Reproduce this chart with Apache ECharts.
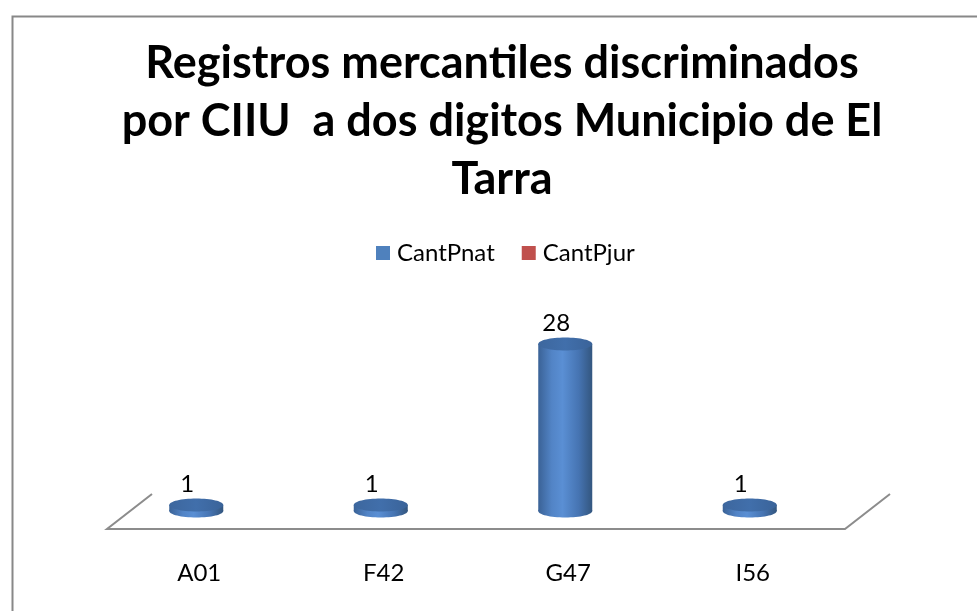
<!DOCTYPE html>
<html><head><meta charset="utf-8">
<script src="https://cdn.jsdelivr.net/npm/echarts@6/dist/echarts.min.js"></script>
<style>html,body{margin:0;padding:0;background:#fff}#c{width:977px;height:611px}</style>
</head><body><div id="c"></div>
<script>
const categories = ['A01', 'F42', 'G47', 'I56'];
const cantPnat = [1, 1, 28, 1];
const cantPjur = [0, 0, 0, 0];
const seriesNames = ['CantPnat', 'CantPjur'];
const titleText = 'Registros mercantiles discriminados\npor CIIU  a dos digitos Municipio de El\nTarra';

const FONT = 'Lato';
const chart = echarts.init(document.getElementById('c'));

function bodyGrad() {
  return new echarts.graphic.LinearGradient(0, 0, 1, 0, [
    { offset: 0, color: '#3a6296' },
    { offset: 0.25, color: '#5284c6' },
    { offset: 0.45, color: '#5a8fd4' },
    { offset: 0.75, color: '#4674b2' },
    { offset: 1, color: '#33567f' }
  ]);
}
function topGrad() {
  return new echarts.graphic.LinearGradient(0, 0, 1, 0, [
    { offset: 0, color: '#3d679e' },
    { offset: 0.5, color: '#416fab' },
    { offset: 1, color: '#3a6399' }
  ]);
}

function cylinder(params, api) {
  const v = api.value(1);
  if (!v) return null;
  const base = api.coord([api.value(0), 0]);
  const top = api.coord([api.value(0), v]);
  const cx = base[0] - 3, rx = 27, ry = 6.5;
  const y0 = base[1], y1 = top[1];
  return {
    type: 'group',
    children: [
      { type: 'ellipse', shape: { cx: cx, cy: y0, rx: rx, ry: ry }, style: { fill: bodyGrad() } },
      { type: 'rect', shape: { x: cx - rx, y: y1, width: 2 * rx, height: y0 - y1 }, style: { fill: bodyGrad() } },
      { type: 'ellipse', shape: { cx: cx, cy: y1, rx: rx, ry: ry }, style: { fill: topGrad() } },
      { type: 'text', style: { text: String(v), x: cx - 9, y: y1 - ry - 2, textAlign: 'center', textVerticalAlign: 'bottom', fontSize: 24, fontFamily: FONT, fill: '#000' } }
    ]
  };
}

function floor(params, api) {
  const p0 = api.coord([0, 0]);
  const band = api.size([1, 0])[0];
  const n = categories.length;
  const xl = p0[0] - band / 2, xr = xl + band * n;
  const yf = p0[1] + 18, yb = p0[1] - 17, dx = 45;
  return {
    type: 'polyline',
    shape: { points: [[xl + dx, yb], [xl, yf], [xr, yf], [xr + dx, yb]] },
    style: { stroke: '#8c8c8c', lineWidth: 2, fill: null }
  };
}

chart.setOption({
  backgroundColor: '#fff',
  animation: false,
  graphic: [{
    type: 'rect', left: 10, top: 14, silent: true,
    shape: { width: 1000, height: 700 },
    style: { fill: 'none', stroke: '#888', lineWidth: 2 }
  }],
  title: {
    text: titleText,
    left: 497, top: 29, textAlign: 'center',
    textStyle: { fontFamily: FONT, fontWeight: 'bold', fontSize: 45, lineHeight: 58, color: '#000' }
  },
  legend: {
    data: seriesNames,
    left: 371, top: 236,
    icon: 'rect', itemWidth: 14, itemHeight: 14, itemGap: 27,
    textStyle: { fontFamily: FONT, fontSize: 24, color: '#000', padding: [0, 0, 0, 2] }
  },
  grid: { left: 107, right: 132, top: 332, bottom: 100 },
  xAxis: {
    type: 'category', data: categories,
    axisLine: { show: false }, axisTick: { show: false }, splitLine: { show: false },
    axisLabel: { fontFamily: FONT, fontSize: 24, color: '#000', margin: 50 }
  },
  yAxis: { type: 'value', min: 0, max: 30, show: false },
  series: [
    { name: '_floor', type: 'custom', renderItem: floor, data: [[0, 0]], encode: { x: 0, y: 1 }, silent: true, z: 1 },
    { name: seriesNames[0], type: 'custom', renderItem: cylinder, itemStyle: { color: '#4F81BD' },
      data: cantPnat.map((v, i) => [i, v]), encode: { x: 0, y: 1 }, z: 3 },
    { name: seriesNames[1], type: 'custom', renderItem: cylinder, itemStyle: { color: '#C0504D' },
      data: cantPjur.map((v, i) => [i, v]), encode: { x: 0, y: 1 }, z: 2 }
  ]
});
</script></body></html>
